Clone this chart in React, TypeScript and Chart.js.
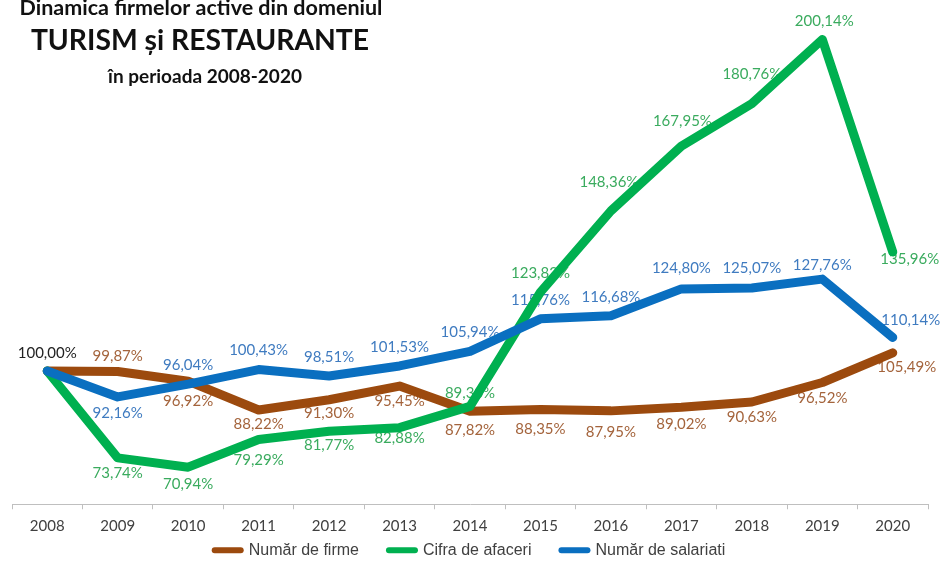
import React, { useEffect, useRef } from "react";
import { Chart, registerables } from "chart.js";

Chart.register(...registerables);

// ---------- data ----------
const years = ["2008", "2009", "2010", "2011", "2012", "2013", "2014", "2015", "2016", "2017", "2018", "2019", "2020"];
const numarFirme = [100.0, 99.87, 96.92, 88.22, 91.3, 95.45, 87.82, 88.35, 87.95, 89.02, 90.63, 96.52, 105.49];
const cifraAfaceri = [100.0, 73.74, 70.94, 79.29, 81.77, 82.88, 89.3, 123.82, 148.36, 167.95, 180.76, 200.14, 135.96];
const numarSalariati = [100.0, 92.16, 96.04, 100.43, 98.51, 101.53, 105.94, 115.76, 116.68, 124.8, 125.07, 127.76, 110.14];
const seriesNames = ["Număr de firme", "Cifra de afaceri", "Număr de salariati"];
const titleLines = ["Dinamica firmelor active din domeniul", "TURISM și RESTAURANTE", "în perioada 2008-2020"];

// ---------- styles ----------
const lineColors = ["#9C4A0E", "#00B050", "#0A6FC0"];
const labelColors = ["#A4643C", "#3AAB5E", "#3F7BC0"];
const firstLabelColor = "#222222";

// label offsets [dx, dy] relative to each point; null = no label
const labelOffsets: ([number, number] | null)[][] = [
  [[0, -18], [0, -15], [0, 20], [0, 14], [0, 13], [0, 15], [0, 19], [0, 20], [0, 21], [0, 17], [0, 15], [0, 16], [14, 14]],
  [null, [0, 15], [0, 17], [0, 21], [0, 14], [0, 11], [0, -13], [0, -19], [-2, -29], [1, -25], [0, -30], [2, -18], [17, 7]],
  [null, [0, 16], [0, -19], [0, -19], [0, -19], [0, -19], [0, -19], [0, -19], [0, -19], [0, -21], [0, -20], [0, -14], [18, -17]],
];

const fmt = (v: number) => v.toFixed(2).replace(".", ",") + "%";

const labelPlugin = {
  id: "pointLabels",
  beforeDatasetsDraw(chart: any) {
    const ctx = chart.ctx;
    ctx.save();
    ctx.font = "15px Lato";
    ctx.textAlign = "center";
    ctx.textBaseline = "middle";
    chart.data.datasets.forEach((ds: any, di: number) => {
      const meta = chart.getDatasetMeta(di);
      meta.data.forEach((pt: any, i: number) => {
        const off = labelOffsets[di][i];
        if (!off) return;
        ctx.fillStyle = di === 0 && i === 0 ? firstLabelColor : labelColors[di];
        ctx.fillText(fmt(ds.data[i]), pt.x + off[0], pt.y + off[1]);
      });
    });
    ctx.restore();
  },
};

const titlePlugin = {
  id: "sideTitle",
  afterDraw(chart: any) {
    const ctx = chart.ctx;
    ctx.save();
    ctx.fillStyle = "#111111";
    ctx.textAlign = "center";
    ctx.textBaseline = "alphabetic";
    ctx.font = "bold 21.5px Lato";
    ctx.fillText(titleLines[0], 201, 15);
    ctx.font = "bold 28.3px Lato";
    ctx.fillText(titleLines[1], 200, 50);
    ctx.font = "bold 19px Lato";
    ctx.fillText(titleLines[2], 205, 83);
    ctx.restore();
  },
};

// lets the x tick labels extend below the thin x-axis box (into the legend's band)
const xLabelRoom = {
  id: "xLabelRoom",
  beforeDraw(chart: any) {
    const xs = chart.scales.x;
    if (xs) xs.bottom = chart.height;
  },
};

export default function App() {
  const canvasRef = useRef<HTMLCanvasElement | null>(null);

  useEffect(() => {
    if (!canvasRef.current) return;
    const seriesData = [numarFirme, cifraAfaceri, numarSalariati];
    const chart = new Chart(canvasRef.current, {
      type: "line",
      data: {
        labels: years,
        datasets: seriesData.map((d, i) => ({
          label: seriesNames[i],
          data: d,
          borderColor: lineColors[i],
          backgroundColor: lineColors[i],
          borderWidth: 9,
          pointRadius: 0,
          pointHoverRadius: 0,
          tension: 0,
          borderJoinStyle: "round" as const,
          borderCapStyle: "round" as const,
          fill: false,
          order: 2 - i,
        })),
      },
      options: {
        animation: false,
        responsive: true,
        maintainAspectRatio: false,
        layout: { padding: { left: 12, right: 12, top: 0, bottom: 0 } },
        scales: {
          x: {
            offset: true,
            grid: {
              display: true,
              drawOnChartArea: false,
              drawTicks: true,
              tickLength: 5,
              color: "#BFBFBF",
              offset: true,
            },
            border: { display: true, color: "#BFBFBF", width: 1 },
            ticks: {
              color: "#404040",
              font: { family: "Lato", size: 15 },
              padding: 8,
              maxRotation: 0,
              autoSkip: false,
            },
            afterFit(scale: any) {
              scale.height = 8;
            },
          },
          y: {
            display: false,
            min: 59.74,
            max: 212.08,
          },
        },
        plugins: {
          legend: {
            display: true,
            position: "bottom",
            maxHeight: 49.75,
            labels: {
              font: { family: "'Liberation Sans', Arial", size: 16 },
              color: "#404040",
              usePointStyle: true,
              pointStyle: "line",
              pointStyleWidth: 26,
              padding: 30,
              sort: (a: any, b: any) => a.datasetIndex - b.datasetIndex,
              generateLabels: (ch: any) =>
                ch.data.datasets.map((ds: any, i: number) => ({
                  text: ds.label,
                  fillStyle: lineColors[i],
                  strokeStyle: lineColors[i],
                  lineWidth: 6,
                  lineCap: "round",
                  pointStyle: "line",
                  hidden: false,
                  datasetIndex: i,
                  fontColor: "#404040",
                })),
            },
          },
          tooltip: { enabled: false },
          title: { display: false },
        },
      },
      plugins: [labelPlugin, titlePlugin, xLabelRoom],
    });
    return () => chart.destroy();
  }, []);

  return (
    <div style={{ position: "fixed", left: 0, top: 0, width: 940, height: 562, background: "#ffffff" }}>
      <canvas ref={canvasRef} />
    </div>
  );
}
